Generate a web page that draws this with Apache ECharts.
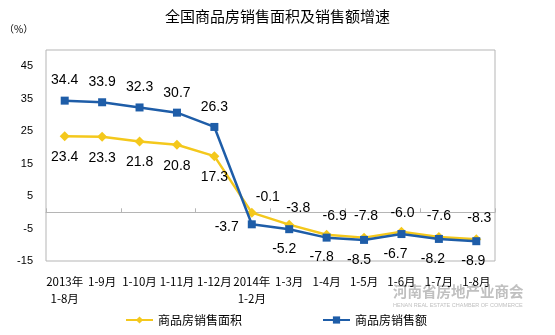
<!DOCTYPE html>
<html><head><meta charset="utf-8">
<script src="https://cdn.jsdelivr.net/npm/echarts@6/dist/echarts.min.js"></script>
<style>html,body{margin:0;padding:0;background:#fff}#c{width:555px;height:335px}</style>
</head><body><div id="c"></div>
<script>
var categories = ['2013年\n1-8月','1-9月','1-10月','1-11月','1-12月','2014年\n1-2月','1-3月','1-4月','1-5月','1-6月','1-7月','1-8月'];
var areaGrowth = [23.4, 23.3, 21.8, 20.8, 17.3, -0.1, -3.8, -6.9, -7.8, -6.0, -7.6, -8.3];
var amountGrowth = [34.4, 33.9, 32.3, 30.7, 26.3, -3.7, -5.2, -7.8, -8.5, -6.7, -8.2, -8.9];
var yTicks = [-15, -5, 5, 15, 25, 35, 45];

// label placement styles (kept separate from data)
var areaLabelPos = ['bottom','bottom','bottom','bottom','bottom','top','top','top','top','top','top','top'];
var areaLabelOff = [[0,0],[0,0],[0,0],[0,0],[0,0],[16,6],[9,4],[8,2],[2,0],[1,2],[0,0],[3,0]];
var amountLabelPos = ['top','top','top','top','top','left','bottom','bottom','bottom','bottom','bottom','bottom'];
var amountLabelOff = [[0,0],[0,0],[0,0],[0,0],[0,0],[0,3],[-5,0],[-5,0],[-5,0],[-6,0],[-6,0],[-3,0]];

function build(vals, pos, off, dist) {
  return vals.map(function (v, i) {
    return { value: v, label: { position: pos[i], offset: off[i], distance: dist } };
  });
}

var FONT = 'Liberation Sans, Arial, sans-serif';
var CJK = 'Noto Sans CJK SC, sans-serif';
var chart = echarts.init(document.getElementById('c'));
chart.setOption({
  animation: false,
  backgroundColor: '#fff',
  title: {
    text: '全国商品房销售面积及销售额增速', left: 'center', top: 4,
    textStyle: { fontSize: 15, fontWeight: 'normal', color: '#000', fontFamily: CJK }
  },
  grid: { left: 46, right: 60, top: 50, bottom: 74, show: true, borderColor: '#b5b5b5', borderWidth: 1 },
  legend: {
    bottom: 4, left: 120, itemGap: 80, itemWidth: 27, itemHeight: 9,
    textStyle: { fontSize: 12, color: '#000', fontFamily: CJK },
    data: ['商品房销售面积', '商品房销售额']
  },
  xAxis: [{
    type: 'category', data: categories,
    axisLine: { onZero: true, lineStyle: { color: '#b5b5b5' } },
    axisTick: { show: true, inside: true, length: 4, lineStyle: { color: '#b5b5b5' } },
    axisLabel: { show: false }
  }, {
    type: 'category', data: categories, position: 'bottom',
    axisLine: { show: false, onZero: false }, axisTick: { show: false },
    axisLabel: { interval: 0, margin: 12, fontSize: 11.5, lineHeight: 17, color: '#000', fontFamily: CJK }
  }],
  yAxis: {
    type: 'value', min: -15, max: 50, interval: 10,
    axisLine: { show: false }, axisTick: { show: false }, splitLine: { show: false },
    axisLabel: {
      margin: 13, fontSize: 11, color: '#000', fontFamily: FONT, showMaxLabel: false,
      formatter: function (v) { return yTicks.indexOf(v) >= 0 ? String(v) : ''; }
    }
  },
  graphic: [
    { type: 'text', left: 4, top: 24, style: { text: '（%）', fontSize: 10, fill: '#000', fontFamily: CJK } },
    { type: 'text', left: 393, top: 284, style: { text: '河南省房地产业商会', fontSize: 14.5, fontWeight: 'bold', fill: '#c0c0c0', fontFamily: CJK } },
    { type: 'text', left: 393, top: 302, style: { text: 'HENAN REAL ESTATE CHAMBER OF COMMERCE', fontSize: 5.5, fill: '#c0c0c0', fontFamily: FONT } }
  ],
  series: [{
    name: '商品房销售面积', type: 'line', xAxisIndex: 0,
    data: build(areaGrowth, areaLabelPos, areaLabelOff, 9),
    symbol: 'diamond', symbolSize: 10,
    itemStyle: { color: '#F4C81C' }, lineStyle: { color: '#F4C81C', width: 2.5 },
    label: { show: true, fontSize: 14, color: '#000', fontFamily: FONT, formatter: function (p) { return p.value.toFixed(1); } },
    z: 2
  }, {
    name: '商品房销售额', type: 'line', xAxisIndex: 0,
    data: build(amountGrowth, amountLabelPos, amountLabelOff, 9),
    symbol: 'rect', symbolSize: 8,
    itemStyle: { color: '#1E5DA8' }, lineStyle: { color: '#1E5DA8', width: 2.5 },
    label: { show: true, fontSize: 14, color: '#000', fontFamily: FONT, formatter: function (p) { return p.value.toFixed(1); } },
    z: 3
  }]
});
</script></body></html>
